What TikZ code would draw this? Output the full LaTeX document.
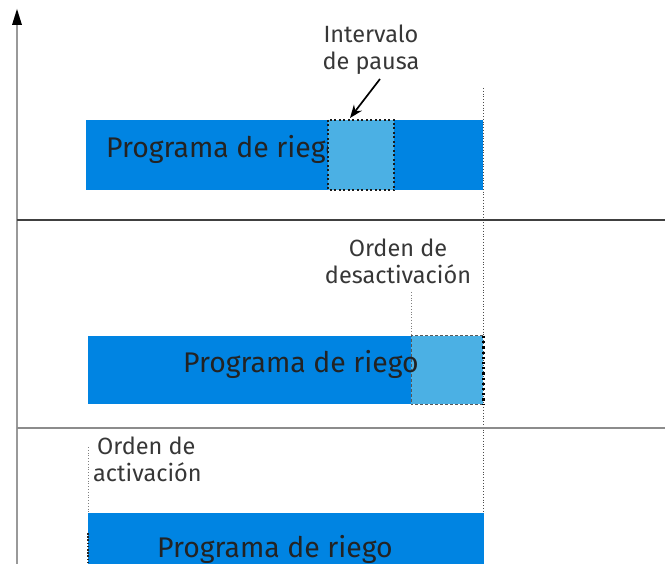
\documentclass[tikz,border=0pt]{standalone}
\usepackage{fontspec}
\newfontfamily\barfont{Fira Sans}
\newfontfamily\lblfont{Fira Sans}
\usetikzlibrary{arrows.meta,calc}
\definecolor{barblue}{RGB}{0,132,226}
\definecolor{lightblue}{RGB}{75,176,228}
\definecolor{txt}{RGB}{35,35,35}
\definecolor{lbltxt}{RGB}{55,55,55}
\tikzset{
  bar/.style={fill=barblue, draw=none, anchor=north west, inner sep=0pt},
  pausebox/.style={fill=lightblue, anchor=north west, inner sep=0pt},
  bartext/.style={anchor=base west, inner sep=0pt, text=txt, font=\barfont\fontsize{28.4}{32}\selectfont},
  lbl/.style={inner sep=0pt, text=lbltxt, font=\lblfont\fontsize{23.5}{27}\selectfont},
  guide/.style={draw=black!70, line width=0.8pt, dotted},
}
\begin{document}
\begin{tikzpicture}[x=1pt,y=-1pt]
\useasboundingbox (0,0) rectangle (665,564);
% guide lines
\coordinate (g1t) at (483,88);
\coordinate (g1b) at (483,513);
\draw[guide] (g1t) -- (g1b);
\coordinate (g2t) at (411,292);
\coordinate (g2b) at (411,336);
\draw[guide, draw=black!50] (g2t) -- (g2b);
\coordinate (g3t) at (88,447);
\coordinate (g3b) at (88,513);
\draw[guide, draw=black!50] (g3t) -- (g3b);
% axes
\coordinate (ax0) at (17,564);
\coordinate (ax1) at (17,9);
\draw[draw=black!40, line width=1.6pt] (ax0) -- ($(ax1)+(0,10)$);
\fill[black] (ax1) -- ($(ax1)+(-5,16)$) -- ($(ax1)+(5,16)$) -- cycle;
\coordinate (h1a) at (17,220);
\coordinate (h1b) at (665,220);
\draw[draw=black!75, line width=2.2pt] (h1a) -- (h1b);
\coordinate (h2a) at (17,428);
\coordinate (h2b) at (665,428);
\draw[draw=black!45, line width=1.6pt] (h2a) -- (h2b);
% bar 1
\node[bar, minimum width=397pt, minimum height=70pt] (bar1) at (86,120) {};
\node[bartext] (t1) at (106,158) {Programa de riego};
\node[pausebox, minimum width=66pt, minimum height=70pt] (pause) at (328,120) {};
\draw[black!90, line width=2pt, dash pattern=on 2pt off 2.5pt] (pause.north west) rectangle (pause.south east);
% bar 2
\node[bar, minimum width=323pt, minimum height=68pt] (bar2) at (88,336) {};
\node[pausebox, minimum width=72pt, minimum height=68pt] (stop) at (411,336) {};
\draw[black!65, line width=1pt, dash pattern=on 3pt off 2pt] (stop.north east) -- (stop.north west) -- (stop.south west) -- (stop.south east);
\draw[black, line width=2.2pt, dash pattern=on 2.2pt off 3pt] (stop.north east) -- (stop.south east);
\node[bartext] (t2) at (183,373) {Programa de riego};
% bar 3
\node[bar, minimum width=396pt, minimum height=60pt] (bar3) at (88,513) {};
\draw[black!85, line width=1.6pt, dash pattern=on 1.6pt off 1.6pt] ($(bar3.north west)+(0,20)$) -- (bar3.south west);
\node[bartext] (t3) at (157,557) {Programa de riego};
% labels
\node[lbl, align=center, anchor=base] (lpause) at (371,70) {Intervalo\\de pausa};
\coordinate (arrowend) at (350,118);
\draw[black, line width=1.7pt, -{Stealth[length=13pt,width=10pt]}] (380,79) -- (arrowend);
\node[lbl, align=center, anchor=base] (ldes) at (398,284) {Orden de\\desactivación};
\node[lbl, align=left, anchor=base west] (lact) at (93,482) {\hspace*{4pt}Orden de\\activación};
\end{tikzpicture}
\end{document}
